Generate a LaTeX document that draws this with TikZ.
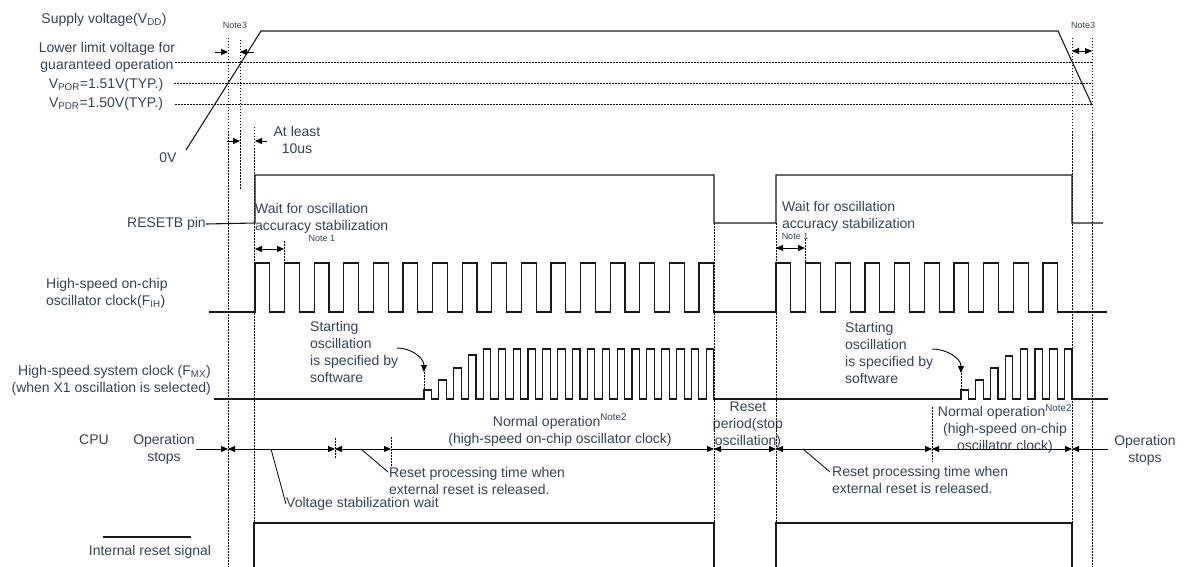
\documentclass[tikz,border=0pt]{standalone}
\usepackage{fontspec}
\setmainfont{Liberation Sans}
\usetikzlibrary{arrows.meta,positioning}
\definecolor{labelgray}{RGB}{52,66,86}
\definecolor{wavegray}{RGB}{25,25,25}
\tikzset{
  wave/.style={draw=wavegray,line width=1.1pt,line join=miter},
  guide/.style={draw=black,line width=1pt,dash pattern=on 1.5pt off 1.5pt},
  dimline/.style={draw=black,line width=0.9pt},
  leader/.style={draw=black,line width=0.8pt},
  lbl/.style={text=labelgray,font=\fontsize{14}{17}\selectfont,inner sep=0pt},
  tinylbl/.style={text=labelgray,font=\fontsize{9}{10}\selectfont,inner sep=0pt}
}

\begin{document}
\begin{tikzpicture}[x=1pt,y=-1pt,>={Triangle[length=7pt,width=6pt]}]
\useasboundingbox (0,0) rectangle (1191,567);

% signal names on the left
\node[lbl] (vdd) at (104,20) {Supply voltage(V\textsubscript{DD})};
\node[lbl,align=center] (lowlim) at (107,57) {Lower limit voltage for\\guaranteed operation};
\node[lbl] (vpor) at (106,85) {V\textsubscript{POR}=1.51V(TYP.)};
\node[lbl] (vpdr) at (106,104) {V\textsubscript{PDR}=1.50V(TYP.)};
\node[lbl] (zerov) at (168,158) {0V};
\node[lbl,anchor=east] (resetb) at (206,224) {RESETB pin};
\node[lbl,align=left,anchor=west] (fih) at (46,293) {High-speed on-chip\\oscillator clock(F\textsubscript{IH})};
\node[lbl,align=right,anchor=east] (fmx) at (211,380) {High-speed system clock (F\textsubscript{MX})\\(when X1 oscillation is selected)};
\node[lbl] (cpu) at (94,440) {CPU};
\node[lbl,align=center] (stopL) at (164,449) {Operation\\stops};
\node[lbl] (intrst) at (150,552) {Internal reset signal};

% notes and timing texts
\node[tinylbl] (note3L) at (235,25) {Note3};
\node[tinylbl] (note3R) at (1083,25) {Note3};
\node[lbl,align=center] (atleast) at (297,140) {At least\\10us};
\node[lbl,align=left,anchor=west] (waitL) at (255,218) {Wait for oscillation\\accuracy stabilization};
\node[tinylbl] (note1L) at (322,238) {Note 1};
\node[lbl,align=left,anchor=west] (waitR) at (782,216) {Wait for oscillation\\accuracy stabilization};
\node[tinylbl] (note1R) at (795,236) {Note 1};
\node[lbl,align=left,anchor=west] (startL) at (310,352) {Starting\\oscillation\\is specified by\\software};
\node[lbl,align=left,anchor=west] (startR) at (845,353) {Starting\\oscillation\\is specified by\\software};
\node[lbl,align=center] (normL) at (560,430) {Normal operation\textsuperscript{Note2}\\(high-speed on-chip oscillator clock)};
\node[lbl,align=center] (rstper) at (748,425) {Reset\\period(stop\\oscillation)};
\node[lbl,align=center] (normR) at (1005,429) {Normal operation\textsuperscript{Note2}\\(high-speed on-chip\\oscillator clock)};
\node[lbl,align=center] (stopR) at (1145,450) {Operation\\stops};
\node[lbl,anchor=west] (vstab) at (286,504) {Voltage stabilization wait};
\node[lbl,align=left,anchor=west] (rprocL) at (389,481) {Reset processing time when\\external reset is released.};
\node[lbl,align=left,anchor=west] (rprocR) at (832,480) {Reset processing time when\\external reset is released.};

% level and timing guides
\draw[guide] (175,63) -- (1092,63);
\draw[guide] (174,84) -- (1092,84);
\draw[guide] (175,105) -- (1092,105);
\draw[guide] (228,38) -- (228,567);
\draw[guide] (240,40) -- (240,190);
\draw[guide] (254,127) -- (254,567);
\draw[guide] (714,223) -- (714,567);
\draw[guide] (776,223) -- (776,567);
\draw[guide] (1072,38) -- (1072,567);
\draw[guide] (1092,38) -- (1092,567);
\draw[guide] (284,241) -- (284,287);
\draw[guide] (805,239) -- (805,287);
\draw[guide] (424,372) -- (424,390);
\draw[guide] (961,373) -- (961,390);
\draw[guide] (335,438) -- (335,458);
\draw[guide] (391,437) -- (391,467);
\draw[guide] (932,407) -- (932,462);

% supply voltage ramp
\draw[wave] (186,150) -- (261,31) -- (1058,31) -- (1092,105);

% RESETB pin
\draw[wave] (resetb.east) -- (255,223) -- (255,175) -- (714,175) -- (714,223)
  -- (776,223) -- (776,175) -- (1072,175) -- (1072,223) -- (1103,223);

% high-speed on-chip oscillator
\draw[wave] (209,312) -- (255,312)
  \foreach \k in {0,...,15} { -- ++(0,-49) -- ++(14.8,0) -- ++(0,49) -- ++(14.8,0) }
  -- (776,312)
  \foreach \k in {0,...,9} { -- ++(0,-49) -- ++(14.83,0) -- ++(0,49) -- ++(14.83,0) }
  -- (1107,312);

% high-speed system clock (X1)
\draw[wave] (214,399) -- (424,399)
  \foreach \h in {9,19,31,44,50,50,50,50,50,50,50,50,50,50,50,50,50,50,50,50}
    { -- ++(0,-\h) -- ++(7.43,0) -- ++(0,\h) -- ++(7.43,0) }
  -- (961,399)
  \foreach \h in {9,19,31,43,50,50,50,50}
    { -- ++(0,-\h) -- ++(7.4,0) -- ++(0,\h) -- ++(7.4,0) }
  -- (1108,399);

% internal reset
\draw[wave] (254,567) -- (254,523) -- (714,523) -- (714,567);
\draw[wave] (776,567) -- (776,523) -- (1072,523) -- (1072,567);
\coordinate (legA) at (103,537);
\coordinate (legB) at (191,537);
\draw[wave] (legA) -- (legB);

% Note3 spans
\coordinate (n3a) at (215,52);
\coordinate (n3b) at (228,52);
\coordinate (n3c) at (240,52);
\coordinate (n3d) at (254,52);
\draw[dimline,->] (n3a) -- (n3b);
\draw[dimline,->] (n3d) -- (n3c);
\coordinate (n3e) at (1072,51);
\coordinate (n3f) at (1092,51);
\draw[dimline,<->] (n3e) -- (n3f);

% at least 10us
\coordinate (al1) at (227,141);
\coordinate (al2) at (240,141);
\coordinate (al3) at (255,141);
\coordinate (al4) at (267,141);
\draw[dimline,->] (al1) -- (al2);
\draw[dimline,->] (al4) -- (al3);

% Note 1 spans
\coordinate (w1a) at (255,249);
\coordinate (w1b) at (284,249);
\draw[dimline,<->] (w1a) -- (w1b);
\coordinate (w2a) at (776,248);
\coordinate (w2b) at (805,248);
\draw[dimline,<->] (w2a) -- (w2b);

% software start pointers
\coordinate (swL) at (397,348);
\coordinate (swLend) at (424,372);
\draw[dimline,->] (swL) to[out=0,in=90] (swLend);
\coordinate (swR) at (932,349);
\coordinate (swRend) at (961,373);
\draw[dimline,->] (swR) to[out=0,in=90] (swRend);

% CPU state line
\coordinate (c0) at (196,449);
\coordinate (c1) at (228,449);
\coordinate (c2) at (335,449);
\coordinate (c3) at (391,449);
\coordinate (c4) at (714,449);
\coordinate (c5) at (776,449);
\coordinate (c6) at (932,449);
\coordinate (c7) at (1072,449);
\coordinate (c8) at (1108,449);
\draw[dimline,->] (c0) -- (c1);
\draw[dimline,<->] (c1) -- (c2);
\draw[dimline,<->] (c2) -- (c3);
\draw[dimline,->] (c3) -- (c4);
\draw[dimline,<->] (c4) -- (c5);
\draw[dimline,<->] (c5) -- (c6);
\draw[dimline,<->] (c6) -- (c7);
\draw[dimline,<-] (c7) -- (c8);

% leaders
\coordinate (ld1) at (271,449);
\draw[leader] (ld1) -- (vstab.west);
\coordinate (ld2) at (361,449);
\coordinate (ld2e) at (388,472);
\draw[leader] (ld2) -- (ld2e);
\coordinate (ld3) at (803,449);
\coordinate (ld3e) at (830,472);
\draw[leader] (ld3) -- (ld3e);

\end{tikzpicture}
\end{document}
